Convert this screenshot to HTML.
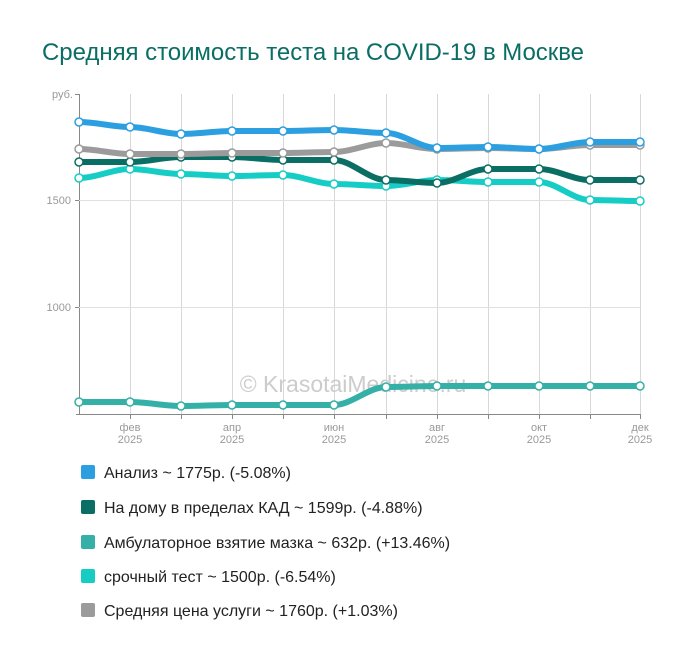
<!DOCTYPE html>
<html><head><meta charset="utf-8"><style>
body{margin:0;background:#fff;width:700px;height:659px;overflow:hidden;font-family:"Liberation Sans",sans-serif}
</style></head><body>
<svg id="s" width="700" height="659" xmlns="http://www.w3.org/2000/svg" font-family="Liberation Sans, sans-serif">
<text x="42" y="60" font-size="24" fill="#0b6e65" textLength="542">Средняя стоимость теста на COVID-19 в Москве</text>
<g id="grid" stroke="#d8d8d8" stroke-width="1"></g>
<line x1="79.5" y1="94" x2="79.5" y2="415" stroke="#888"/>
<line x1="75" y1="94.5" x2="79" y2="94.5" stroke="#888"/>
<line x1="75" y1="200.5" x2="640" y2="200.5" stroke="#e0e0e0"/>
<line x1="75" y1="307.5" x2="640" y2="307.5" stroke="#e0e0e0"/>
<line x1="75" y1="200.5" x2="79" y2="200.5" stroke="#888"/>
<line x1="75" y1="307.5" x2="79" y2="307.5" stroke="#888"/>
<line x1="76" y1="414.5" x2="640" y2="414.5" stroke="#888"/>
<g font-size="11" fill="#999" text-anchor="end">
<text x="73" y="98">руб.</text><text x="71" y="204">1500</text><text x="71" y="311">1000</text>
</g>
<text x="353" y="392" font-size="23" fill="#ccc" text-anchor="middle">© KrasotaiMedicine.ru</text>
<g id="lines"></g>
<g font-size="11" fill="#999" text-anchor="middle">
<text x="130" y="431">фев</text><text x="130" y="443">2025</text>
<text x="232" y="431">апр</text><text x="232" y="443">2025</text>
<text x="334" y="431">июн</text><text x="334" y="443">2025</text>
<text x="437" y="431">авг</text><text x="437" y="443">2025</text>
<text x="539" y="431">окт</text><text x="539" y="443">2025</text>
<text x="640" y="431">дек</text><text x="640" y="443">2025</text>
</g>
<g font-size="16" fill="#222">
<rect x="81" y="465" width="14" height="14" rx="2" fill="#2b9fe0"/><text x="104" y="478">Анализ ~ 1775р. (-5.08%)</text>
<rect x="81" y="500" width="14" height="14" rx="2" fill="#0b6e65"/><text x="104" y="513">На дому в пределах КАД ~ 1599р. (-4.88%)</text>
<rect x="81" y="535" width="14" height="14" rx="2" fill="#35b0a7"/><text x="104" y="548">Амбулаторное взятие мазка ~ 632р. (+13.46%)</text>
<rect x="81" y="569" width="14" height="14" rx="2" fill="#16cdc5"/><text x="104" y="582">срочный тест ~ 1500р. (-6.54%)</text>
<rect x="81" y="603" width="14" height="14" rx="2" fill="#9b9b9b"/><text x="104" y="616">Средняя цена услуги ~ 1760р. (+1.03%)</text>
</g>
</svg>
<script>
var X=[79,130,181,232,283,334,386,437,488,539,590,640];
var ns="http://www.w3.org/2000/svg";
var g=document.getElementById('grid');
X.slice(1).forEach(function(x){var l=document.createElementNS(ns,'line');l.setAttribute('x1',x+.5);l.setAttribute('x2',x+.5);l.setAttribute('y1',94);l.setAttribute('y2',414);g.appendChild(l);
var t=document.createElementNS(ns,'line');t.setAttribute('x1',x+.5);t.setAttribute('x2',x+.5);t.setAttribute('y1',414);t.setAttribute('y2',419);t.setAttribute('stroke','#888');g.appendChild(t);});
var S=[
["#35b0a7",[402,402,406,405,405,405,387,386,386,386,386,386]],
["#16cdc5",[178,169,174,176,175,184,186,180,182,182,200,201]],
["#0b6e65",[162,162,157,157,160,160,180,183,169,169,180,180]],
["#9b9b9b",[149,154,154,153,153,152,143,149,148,149,145,145]],
["#2b9fe0",[122,127,134,131,131,130,133,148,147,149,142,142]]];
var L=document.getElementById('lines');
S.forEach(function(s){var Y=s[1];var d="M"+X[0]+","+Y[0];
for(var i=0;i<11;i++){var dx=(X[i+1]-X[i])/3;d+=" C"+(X[i]+dx)+","+Y[i]+" "+(X[i+1]-dx)+","+Y[i+1]+" "+X[i+1]+","+Y[i+1];}
var p=document.createElementNS(ns,'path');p.setAttribute('d',d);p.setAttribute('fill','none');p.setAttribute('stroke',s[0]);p.setAttribute('stroke-width',6);p.setAttribute('stroke-linecap','round');L.appendChild(p);
for(var i=0;i<12;i++){var c=document.createElementNS(ns,'circle');c.setAttribute('cx',X[i]);c.setAttribute('cy',Y[i]);c.setAttribute('r',4);c.setAttribute('fill','#fff');c.setAttribute('stroke',s[0]);c.setAttribute('stroke-width',1.5);L.appendChild(c);}
});
</script>
</body></html>
